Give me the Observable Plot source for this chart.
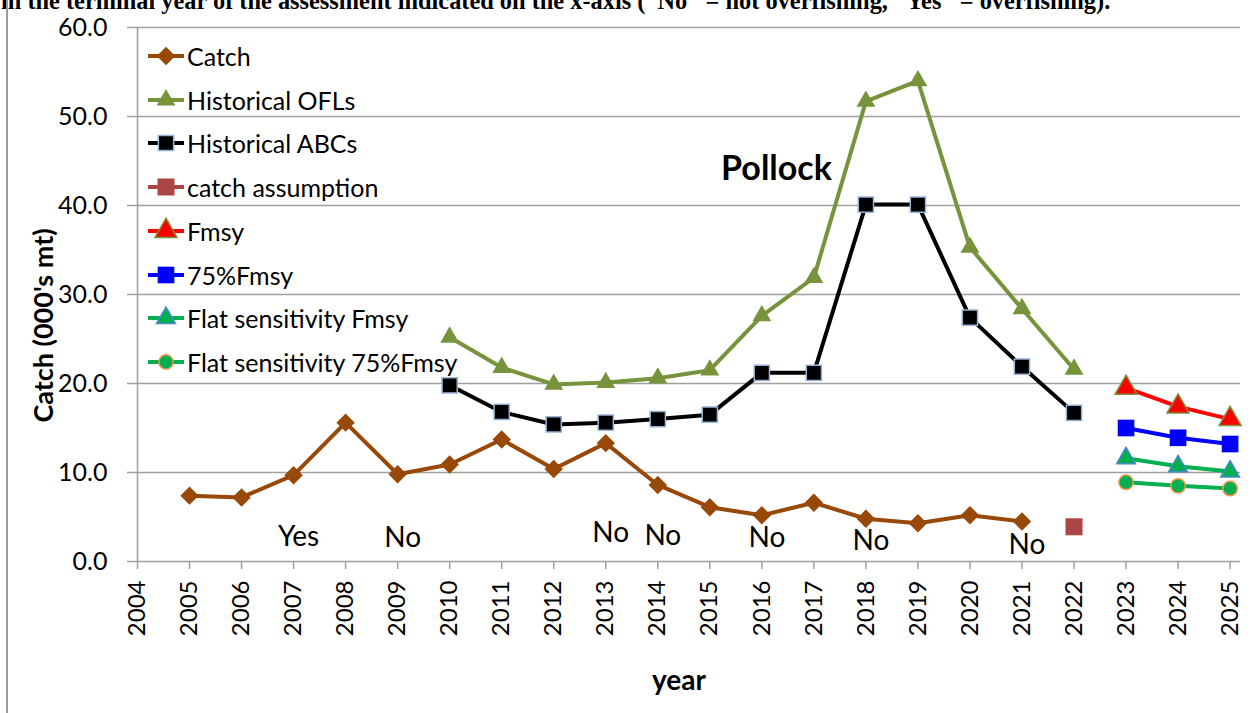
<!DOCTYPE html>
<html><head><meta charset="utf-8">
<script src="https://cdn.jsdelivr.net/npm/d3@7"></script>
<script src="https://cdn.jsdelivr.net/npm/@observablehq/plot@0.6"></script>
<style>
body{margin:0;background:#fff;}
#wrap{position:relative;width:1250px;height:713px;overflow:hidden;background:#fff;}
#hdr{position:absolute;left:1px;white-space:nowrap;font-family:"Liberation Serif";font-weight:bold;line-height:1;color:#000;}
#legend{position:absolute;left:148px;top:0;font-family:Lato;font-size:25px;color:#000;}
.li{position:absolute;left:0;display:flex;align-items:center;white-space:nowrap;height:30px;}
.li span{margin-left:3px;}
#border{position:absolute;left:6px;top:0;width:1.5px;height:713px;background:#9a9a9a;}
#chart svg{display:block;}
</style></head><body>
<div id="wrap"><div id="chart"></div><div id="hdr"></div><div id="legend"></div><div id="border"></div></div>
<script>
// ---------------- data ----------------
const headerText = "in the terminal year of the assessment indicated on the x-axis (\u201CNo\u201D = not overfishing, \u201CYes\u201D = overfishing).";
const chartTitle = "Pollock";
const yTitle = "Catch (000's mt)";
const xTitle = "year";

const xTicks = [2004,2005,2006,2007,2008,2009,2010,2011,2012,2013,2014,2015,2016,2017,2018,2019,2020,2021,2022,2023,2024,2025];
const yTicks = [0,10,20,30,40,50,60];

const catchYears  = [2005,2006,2007,2008,2009,2010,2011,2012,2013,2014,2015,2016,2017,2018,2019,2020,2021];
const catchValues = [7.4,7.2,9.7,15.6,9.8,10.9,13.7,10.4,13.3,8.6,6.1,5.2,6.6,4.8,4.3,5.2,4.5];

const oflYears  = [2010,2011,2012,2013,2014,2015,2016,2017,2018,2019,2020,2021,2022];
const oflValues = [25.2,21.8,19.9,20.1,20.6,21.5,27.6,31.9,51.7,54.0,35.3,28.4,21.6];

const abcYears  = [2010,2011,2012,2013,2014,2015,2016,2017,2018,2019,2020,2021,2022];
const abcValues = [19.8,16.8,15.4,15.6,16.0,16.5,21.2,21.2,40.1,40.1,27.4,21.9,16.7];

const assumptionYears  = [2022];
const assumptionValues = [3.9];

const projYears      = [2023,2024,2025];
const fmsyValues     = [19.5,17.4,16.0];
const f75Values      = [15.0,13.9,13.2];
const flatFmsyValues = [11.6,10.7,10.1];
const flat75Values   = [8.9,8.5,8.2];

const noteYears  = [2007,2009,2013,2014,2016,2018,2021];
const noteLabels = ["Yes","No","No","No","No","No","No"];
const noteValues = [2.7,2.6,3.2,2.9,2.6,2.25,1.8];

const seriesNames = ["Catch","Historical OFLs","Historical ABCs","catch assumption","Fmsy","75%Fmsy","Flat sensitivity Fmsy","Flat sensitivity 75%Fmsy"];

// ---------------- styles ----------------
const styles = [
  {years: catchYears, values: catchValues, line: "#984807", symbol: "diamond2", r: 8.3, fill: "#984807", stroke: "none"},
  {years: oflYears, values: oflValues, line: "#77933C", symbol: "triangle", r: 7.0, fill: "#77933C", stroke: "none"},
  {years: abcYears, values: abcValues, line: "#000000", symbol: "square", r: 8.6, fill: "#000000", stroke: "#95B3D7"},
  {years: assumptionYears, values: assumptionValues, line: null, symbol: "square", r: 9.6, fill: "#AA4643", stroke: "none"},
  {years: projYears, values: fmsyValues, line: "#FF0000", symbol: "triangle", r: 8.2, fill: "#FF0000", stroke: "#77933C"},
  {years: projYears, values: f75Values, line: "#0000FF", symbol: "square", r: 9.4, fill: "#0000FF", stroke: "none"},
  {years: projYears, values: flatFmsyValues, line: "#00B050", symbol: "triangle", r: 7.0, fill: "#00B050", stroke: "#4A86C8"},
  {years: projYears, values: flat75Values, line: "#00B050", symbol: "circle", r: 7.2, fill: "#00B050", stroke: "#F79646"}
];

const gridColor = "#a0a0a0";
const marks = [
  Plot.ruleY(yTicks.filter(d => d > 0), {stroke: gridColor, strokeWidth: 1.5}),
  Plot.ruleY([0], {stroke: gridColor, strokeWidth: 1.5}),
  Plot.ruleX([xTicks[0]], {stroke: gridColor, strokeWidth: 1.5}),
  Plot.axisY(yTicks, {tickSize: 10, tickPadding: 20, tickFormat: d => d.toFixed(1), fontSize: 25, stroke: gridColor, strokeWidth: 1.5, fill: "#000", label: null}),
  Plot.axisX(xTicks, {tickSize: 8, tickPadding: 11, tickRotate: -90, tickFormat: d => String(d), fontSize: 24, stroke: gridColor, strokeWidth: 1.5, fill: "#000", label: null})
];

styles.forEach(s => {
  const rows = s.years.map((y, i) => ({year: y, value: s.values[i]}));
  if (s.line) marks.push(Plot.line(rows, {x: "year", y: "value", stroke: s.line, strokeWidth: 4}));
  marks.push(Plot.dot(rows, {x: "year", y: "value", symbol: s.symbol, r: s.r, fill: s.fill, stroke: s.stroke, strokeWidth: 1.5}));
});

const notes = noteYears.map((y, i) => ({year: y, value: noteValues[i], label: noteLabels[i]}));
marks.push(Plot.text(notes, {x: "year", y: "value", text: "label", dx: 5, fontSize: 28, fill: "#000"}));
marks.push(Plot.text([chartTitle], {text: d => d, frameAnchor: "top-left", textAnchor: "middle", dx: 776 - 137, dy: 155 - 27, fontSize: 34, fontWeight: "bold", fill: "#000"}));
marks.push(Plot.text([yTitle], {text: d => d, frameAnchor: "left", textAnchor: "middle", dx: 44 - 137, dy: 325 - 294, rotate: -90, fontSize: 27, fontWeight: "bold", fill: "#000"}));
marks.push(Plot.text([xTitle], {text: d => d, frameAnchor: "bottom", textAnchor: "middle", dx: -10, dy: 128, fontSize: 28, fontWeight: "bold", fill: "#000"}));

const chart = Plot.plot({
  width: 1250,
  height: 713,
  marginLeft: 137,
  marginRight: 10,
  marginTop: 27,
  marginBottom: 152,
  x: {domain: [2004, 2025.2]},
  y: {domain: [0, 60]},
  style: {fontFamily: "Lato", background: "transparent", overflow: "visible"},
  marks
});
document.getElementById("chart").appendChild(chart);

// header (clipped at top)
const hdr = document.getElementById("hdr");
hdr.textContent = headerText;
const ctx = document.createElement("canvas").getContext("2d");
ctx.font = "bold 20px 'Liberation Serif'";
const w = ctx.measureText(headerText).width;
const fs = 20 * 1110 / w;
hdr.style.fontSize = fs + "px";
hdr.style.top = (9 - 0.8375 * fs) + "px";

// legend
const legend = d3.select("#legend");
const centers0 = 56, step = 43.7;
const typeMap = {diamond2: d3.symbolDiamond2, triangle: d3.symbolTriangle, square: d3.symbolSquare, circle: d3.symbolCircle};
styles.forEach((s, i) => {
  const item = legend.append("div").attr("class", "li").style("top", (centers0 + i * step - 15) + "px");
  const svg = item.append("svg").attr("width", 36).attr("height", 30);
  svg.append("line").attr("x1", 0).attr("x2", 36).attr("y1", 15).attr("y2", 15).attr("stroke", s.line || s.fill).attr("stroke-width", 4);
  svg.append("path")
    .attr("transform", "translate(18,15)")
    .attr("d", d3.symbol(typeMap[s.symbol], Math.PI * s.r * s.r)())
    .attr("fill", s.fill).attr("stroke", s.stroke).attr("stroke-width", 1.5);
  item.append("span").text(seriesNames[i]);
});
</script>
</body></html>
